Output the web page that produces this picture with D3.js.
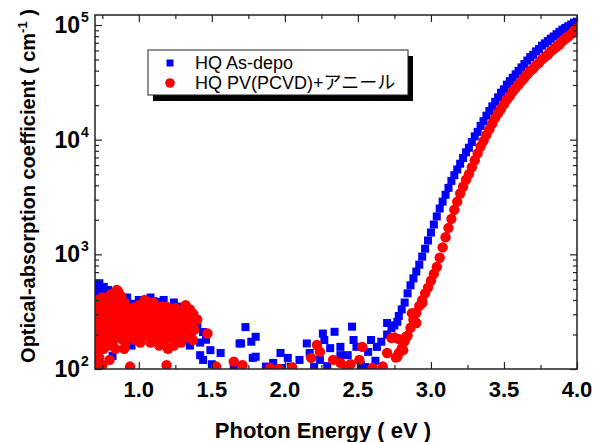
<!DOCTYPE html>
<html>
<head>
<meta charset="utf-8">
<script src="https://cdn.jsdelivr.net/npm/d3@7"></script>
<style>
body { margin: 0; background: #fff; }
</style>
</head>
<body>
<div id="chart"></div>
<script>
// absorption edge, As-depo (blue squares)
var blueEdgeE = [2.80,2.82,2.84,2.86,2.88,2.90,2.92,2.94,2.96,2.98,3.00,3.02,3.04,3.06,3.08,3.10,3.12,3.14,3.16,3.18,
  3.20,3.22,3.24,3.26,3.28,3.30,3.32,3.34,3.36,3.38,3.40,3.42,3.44,3.46,3.48,3.50,3.52,3.54,3.56,3.58,
  3.60,3.62,3.64,3.66,3.68,3.70,3.72,3.74,3.76,3.78,3.80,3.82,3.84,3.86,3.88,3.90,3.92,3.94,3.96,3.98,4.00];
var blueEdgeA = [331,380,457,537,617,708,813,955,1120,1320,1550,1820,2140,2510,2880,3310,3800,4370,4900,5500,
  6170,6920,7760,8510,9550,10700,11700,13200,14500,16200,17800,19500,21400,23400,25700,27500,30200,32400,34700,37200,
  39800,42700,45700,49000,52500,55000,58900,61700,66100,69200,72400,75900,79400,83200,87100,91200,94400,97700,101000,105000,107000];

// absorption edge, PV(PCVD)+anneal (red circles)
var redEdgeE = [2.76,2.78,2.80,2.82,2.84,2.86,2.88,2.90,2.92,2.94,2.96,2.98,3.00,3.02,3.04,3.06,3.08,3.10,3.12,3.14,
  3.16,3.18,3.20,3.22,3.24,3.26,3.28,3.30,3.32,3.34,3.36,3.38,3.40,3.42,3.44,3.46,3.48,3.50,3.52,3.54,
  3.56,3.58,3.60,3.62,3.64,3.66,3.68,3.70,3.72,3.74,3.76,3.78,3.80,3.82,3.84,3.86,3.88,3.90,3.92,3.94,3.96,3.98,4.00];
var redEdgeA = [126,138,151,174,195,229,269,309,355,398,457,513,589,676,776,933,1150,1410,1700,2040,
  2450,2880,3390,3890,4470,5010,5750,6610,7590,8710,9770,11000,12300,13800,15500,17000,18600,20400,22400,24000,
  26300,28200,30200,32400,34700,37200,39800,41700,44700,46800,50100,52500,55000,58900,61700,64600,67600,72400,75900,79400,83200,89100,93300];

// noisy sub-gap points [energy, alpha]
var blueNoise = [
  [0.70,520],[0.71,540],[0.71,460],[0.71,380],[0.71,290],[0.71,200],[0.72,508],[0.72,420],[0.72,330],
  [0.73,560],[0.74,480],[0.74,360],[0.74,250],[0.74,150],[0.75,500],[0.76,520],[0.76,440],[0.76,310],
  [0.77,470],[0.79,488],[0.79,380],[0.80,427],[0.80,300],[0.82,350],[0.82,220],[0.82,130],[0.84,450],
  [0.86,400],[0.86,280],[0.90,330],[0.90,200],[0.92,420],[0.95,370],[0.95,250],[0.95,160],[1.00,400],
  [1.00,320],[1.00,220],[1.05,350],[1.05,240],[1.08,420],[1.10,390],[1.10,280],[1.10,180],[1.12,385],
  [1.15,300],[1.15,210],[1.17,400],[1.20,340],[1.20,250],[1.20,150],[1.24,380],[1.25,290],[1.25,200],
  [1.28,350],[1.28,240],[1.29,316],[1.30,300],[1.32,330],[1.33,267],[1.33,220],[1.35,230],[1.35,160],
  [1.36,191],[1.38,290],[1.40,226],[1.40,250],[1.42,132],[1.42,170],[1.44,120],[1.44,210],[1.46,180],
  [1.49,146],[1.50,110],[1.56,138],[1.65,108],[1.69,167],[1.70,167],[1.73,232],
  [1.77,173],[1.78,125],[1.80,191],[1.80,128],[1.87,105],[1.92,113],[1.97,138],[1.98,102],[2.02,125],
  [2.04,105],[2.10,120],[2.15,167],[2.17,138],[2.20,104],[2.24,120],[2.26,204],[2.27,179],[2.29,106],
  [2.31,152],[2.34,211],[2.38,156],[2.38,132],[2.43,132],[2.46,234],[2.47,179],[2.49,156],[2.52,108],
  [2.55,104],[2.57,141],[2.59,179],[2.62,118],[2.63,156],[2.66,173],[2.70,252],[2.70,200],[2.73,228],
  [2.75,240],[2.77,258],[2.78,290]
];
var redNoise = [
  [0.70,300],[0.70,220],[0.70,160],[0.71,330],[0.71,250],[0.71,180],[0.71,140],[0.71,115],[0.72,400],
  [0.72,290],[0.72,210],[0.72,160],[0.72,130],[0.73,350],[0.73,270],[0.73,190],[0.73,125],[0.73,105],
  [0.74,310],[0.74,230],[0.74,170],[0.75,420],[0.75,260],[0.75,200],[0.75,108],[0.76,340],[0.76,240],
  [0.76,150],[0.77,380],[0.77,300],[0.77,220],[0.78,410],[0.78,270],[0.78,190],[0.79,340],[0.79,240],
  [0.79,160],[0.80,310],[0.80,200],[0.80,120],[0.81,450],[0.81,360],[0.81,270],[0.82,400],[0.82,290],
  [0.83,320],[0.83,230],[0.83,180],[0.84,360],[0.84,260],[0.84,150],[0.85,490],[0.85,400],[0.85,300],
  [0.86,470],[0.86,260],[0.86,200],[0.87,380],[0.87,220],[0.88,430],[0.88,340],[0.88,240],[0.89,300],
  [0.89,180],[0.90,380],[0.90,280],[0.90,210],[0.90,150],[0.91,350],[0.91,250],[0.91,170],[0.92,310],
  [0.92,230],[0.93,290],[0.93,190],[0.94,260],[0.94,200],[0.94,105],[0.95,310],[0.95,240],[0.96,340],
  [0.96,280],[0.96,220],[0.97,260],[0.97,190],[0.98,300],[0.98,240],[0.98,180],[0.99,330],[0.99,230],
  [1.00,360],[1.00,290],[1.00,210],[1.01,280],[1.01,170],[1.02,330],[1.02,260],[1.02,190],[1.03,350],
  [1.03,250],[1.04,400],[1.04,300],[1.04,230],[1.05,300],[1.05,210],[1.06,350],[1.06,270],[1.06,200],
  [1.07,380],[1.07,260],[1.08,310],[1.08,240],[1.08,170],[1.09,330],[1.09,200],[1.10,380],[1.10,290],
  [1.10,220],[1.11,310],[1.11,240],[1.12,340],[1.12,260],[1.12,190],[1.13,280],[1.13,200],[1.14,300],
  [1.14,230],[1.14,160],[1.15,330],[1.15,250],[1.16,350],[1.16,270],[1.16,200],[1.17,290],[1.17,220],
  [1.18,320],[1.18,240],[1.18,180],[1.19,350],[1.19,260],[1.19,108],[1.20,290],[1.20,220],[1.20,150],
  [1.21,310],[1.21,200],[1.22,330],[1.22,250],[1.22,190],[1.23,270],[1.23,210],[1.24,300],[1.24,230],
  [1.24,160],[1.25,340],[1.25,250],[1.26,270],[1.26,210],[1.27,290],[1.27,190],[1.28,320],[1.28,240],
  [1.28,180],[1.29,260],[1.29,170],[1.30,290],[1.30,220],[1.31,310],[1.31,240],[1.32,361],[1.32,260],
  [1.32,200],[1.33,280],[1.33,190],[1.34,305],[1.34,230],[1.35,330],[1.36,250],[1.37,305],[1.37,179],
  [1.38,220],[1.40,270],[1.47,204],[1.53,105],[1.65,116],[1.71,108],[1.90,102],[1.96,100],[2.05,103],
  [2.18,125],[2.22,162],[2.24,141],[2.33,120],[2.38,113],[2.42,105],[2.45,110],[2.51,120],[2.53,156],
  [2.60,102],[2.67,105],[2.70,138],[2.73,186],[2.75,188],[2.77,128],[2.78,182],[2.81,146],[2.83,191],
  [2.87,307],[2.90,252],[2.94,376]
];

var xMajor = [1.0, 1.5, 2.0, 2.5, 3.0, 3.5, 4.0];
var xMinor = [0.75, 1.25, 1.75, 2.25, 2.75, 3.25, 3.75];
var yMajor = [100, 1000, 10000, 100000];
var yExp = ["2", "3", "4", "5"];
var legendNames = ["HQ As-depo", "HQ PV(PCVD)+アニール"];

var w = 608, h = 442;
var pL = 95, pR = 577, pT = 15, pB = 369;

var svg = d3.select("#chart").append("svg")
  .attr("width", w).attr("height", h)
  .style("font-family", "'Liberation Sans', Arial, sans-serif");

var x = d3.scaleLinear().domain([0.7, 4.0]).range([pL, pR]);
var y = d3.scaleLog().domain([100, 122300]).range([pB, pT]);

svg.append("clipPath").attr("id", "clip")
  .append("rect").attr("x", pL).attr("y", pT)
  .attr("width", pR - pL).attr("height", pB - pT);

var blue = blueNoise.concat(blueEdgeE.map((e, i) => [e, blueEdgeA[i]]));
var red = redNoise.concat(redEdgeE.map((e, i) => [e, redEdgeA[i]]));

var plot = svg.append("g").attr("clip-path", "url(#clip)");
plot.selectAll("rect.b").data(blue).enter().append("rect")
  .attr("class", "b")
  .attr("x", d => x(d[0]) - 4).attr("y", d => y(d[1]) - 4)
  .attr("width", 8).attr("height", 8)
  .attr("fill", "#0000ff");
plot.selectAll("circle.r").data(red).enter().append("circle")
  .attr("class", "r")
  .attr("cx", d => x(d[0])).attr("cy", d => y(d[1]))
  .attr("r", 5.2)
  .attr("fill", "#ff0000");

// axes with inward ticks on all four sides
function axisStyle(g) {
  g.select(".domain").remove();
  g.selectAll("line").attr("stroke", "#222").attr("stroke-width", 1.2);
  g.selectAll("text").remove();
}
svg.append("g").attr("transform", "translate(0," + pB + ")")
  .call(d3.axisBottom(x).tickValues(xMajor).tickSize(-7)).call(axisStyle);
svg.append("g").attr("transform", "translate(0," + pB + ")")
  .call(d3.axisBottom(x).tickValues(xMinor).tickSize(-4)).call(axisStyle);
svg.append("g").attr("transform", "translate(0," + pT + ")")
  .call(d3.axisTop(x).tickValues(xMajor).tickSize(-7)).call(axisStyle);
svg.append("g").attr("transform", "translate(0," + pT + ")")
  .call(d3.axisTop(x).tickValues(xMinor).tickSize(-4)).call(axisStyle);

var yMinor = y.ticks().filter(v => yMajor.indexOf(v) < 0);
svg.append("g").attr("transform", "translate(" + pL + ",0)")
  .call(d3.axisLeft(y).tickValues(yMajor).tickSize(-7)).call(axisStyle);
svg.append("g").attr("transform", "translate(" + pL + ",0)")
  .call(d3.axisLeft(y).tickValues(yMinor).tickSize(-4)).call(axisStyle);
svg.append("g").attr("transform", "translate(" + pR + ",0)")
  .call(d3.axisRight(y).tickValues(yMajor).tickSize(-7)).call(axisStyle);
svg.append("g").attr("transform", "translate(" + pR + ",0)")
  .call(d3.axisRight(y).tickValues(yMinor).tickSize(-4)).call(axisStyle);

svg.append("rect")
  .attr("x", pL).attr("y", pT)
  .attr("width", pR - pL).attr("height", pB - pT)
  .attr("fill", "none").attr("stroke", "#222").attr("stroke-width", 1.5);

// tick labels
svg.selectAll("text.xt").data(xMajor).enter().append("text")
  .attr("x", d => x(d)).attr("y", 397)
  .attr("text-anchor", "middle")
  .attr("font-size", 22).attr("font-weight", "bold")
  .text(d => d.toFixed(1));

svg.selectAll("text.yt").data(yMajor).enter().append("text")
  .attr("x", 80).attr("y", d => y(d) + 8)
  .attr("text-anchor", "end")
  .attr("font-size", 23).attr("font-weight", "bold")
  .text("10");
svg.selectAll("text.ye").data(yMajor).enter().append("text")
  .attr("x", 81).attr("y", d => y(d) - 3)
  .attr("font-size", 14).attr("font-weight", "bold")
  .text((d, i) => yExp[i]);

// axis titles
svg.append("text")
  .attr("x", (pL + pR) / 2 - 13).attr("y", 438)
  .attr("text-anchor", "middle")
  .attr("font-size", 22).attr("font-weight", "bold")
  .text("Photon Energy ( eV )");

var yt = svg.append("text")
  .attr("transform", "translate(35,186) rotate(-90)")
  .attr("text-anchor", "middle")
  .attr("font-size", 20).attr("font-weight", "bold");
yt.append("tspan").text("Optical-absorption coefficient ( cm");
yt.append("tspan").attr("font-size", 13).attr("dy", -8).text("-1");
yt.append("tspan").attr("dy", 8).text(" )");

// legend
var lg = svg.append("g");
lg.append("rect").attr("x", 153).attr("y", 56).attr("width", 260).attr("height", 45).attr("fill", "#000");
lg.append("rect").attr("x", 148).attr("y", 50).attr("width", 260).attr("height", 45)
  .attr("fill", "#fff").attr("stroke", "#222").attr("stroke-width", 1);
lg.append("rect").attr("x", 166.5).attr("y", 59.5).attr("width", 7).attr("height", 7).attr("fill", "#0000ff");
lg.append("circle").attr("cx", 170).attr("cy", 83).attr("r", 4.8).attr("fill", "#ff0000");
lg.selectAll("text").data(legendNames).enter().append("text")
  .attr("x", 195).attr("y", (d, i) => 69 + i * 20)
  .attr("font-size", 18)
  .attr("font-family", "'Liberation Sans', 'Noto Sans CJK JP', sans-serif")
  .text(d => d);
</script>
</body>
</html>
